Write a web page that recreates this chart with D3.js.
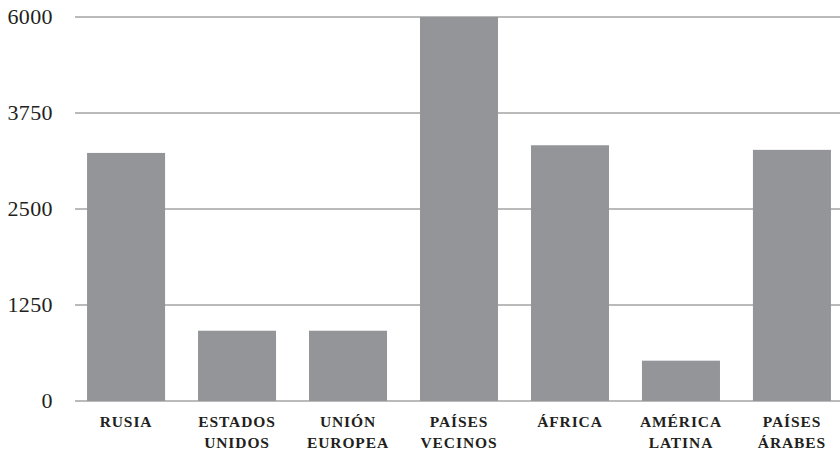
<!DOCTYPE html>
<html>
<head>
<meta charset="utf-8">
<script src="https://cdn.jsdelivr.net/npm/d3@7"></script>
<style>
  body { margin: 0; background: #fff; }
  svg { display: block; }
  .tick-label { font-family: "Liberation Serif", "DejaVu Serif", serif; font-size: 22px; letter-spacing: 0.4px; fill: #231f20; }
  .cat-label { font-family: "Liberation Serif", "DejaVu Serif", serif; font-size: 15.5px; font-weight: bold; letter-spacing: 0.9px; fill: #231f20; }
</style>
</head>
<body>
<svg></svg>
<script>
var width = 840,
    height = 455;

// Data
var categories = ['RUSIA', 'ESTADOS UNIDOS', 'UNIÓN EUROPEA', 'PAÍSES VECINOS', 'ÁFRICA', 'AMÉRICA LATINA', 'PAÍSES ÁRABES'];
var values = [3230, 915, 915, 6000, 3330, 525, 3270];
var tickValues = [0, 1250, 2500, 3750, 6000];

var data = categories.map(function (c, i) { return { name: c, value: values[i] }; });

var svg = d3.select('svg')
    .attr('width', width)
    .attr('height', height);

// The axis places its ticks evenly, so the scale is piecewise
var y = d3.scaleLinear()
    .domain(tickValues)
    .range([401, 305, 209, 113, 17]);

var x = d3.scaleBand()
    .domain(categories)
    .range([70.4, 847.6])
    .paddingInner(0.297)
    .paddingOuter(0.15);

// Gridlines
svg.append('g')
    .selectAll('line')
    .data(tickValues)
    .enter().append('line')
    .attr('x1', 75)
    .attr('x2', width)
    .attr('y1', function (d) { return y(d); })
    .attr('y2', function (d) { return y(d); })
    .style('stroke', '#a3a3a3')
    .style('stroke-width', 1.5);

// Tick labels
svg.append('g')
    .selectAll('text')
    .data(tickValues)
    .enter().append('text')
    .attr('class', 'tick-label')
    .attr('x', 53)
    .attr('y', function (d) { return y(d); })
    .attr('dy', '0.33em')
    .attr('text-anchor', 'end')
    .text(function (d) { return d; });

// Bars
svg.append('g')
    .selectAll('rect')
    .data(data)
    .enter().append('rect')
    .attr('x', function (d) { return x(d.name); })
    .attr('y', function (d) { return y(d.value); })
    .attr('width', x.bandwidth())
    .attr('height', function (d) { return y(0) - y(d.value); })
    .style('fill', '#949599');

// Category labels, split on the space
var labels = svg.append('g')
    .selectAll('text')
    .data(data)
    .enter().append('text')
    .attr('class', 'cat-label')
    .attr('text-anchor', 'middle')
    .attr('x', function (d) { return x(d.name) + x.bandwidth() / 2; })
    .attr('y', 427);

labels.selectAll('tspan')
    .data(function (d) { return d.name.split(' '); })
    .enter().append('tspan')
    .attr('x', function () { var p = d3.select(this.parentNode).datum(); return x(p.name) + x.bandwidth() / 2; })
    .attr('dy', function (d, i) { return i === 0 ? 0 : 21; })
    .text(function (d) { return d; });
</script>
</body>
</html>
